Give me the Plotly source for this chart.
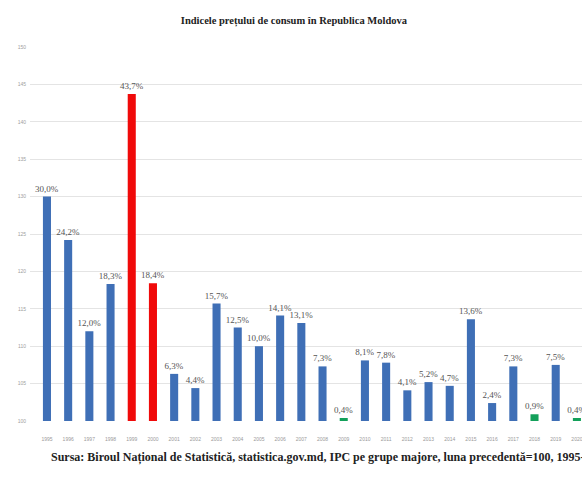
import plotly.graph_objects as go

# Annual consumer price growth, Republic of Moldova (previous year = 100)
years = [str(y) for y in range(1995, 2021)]
inflation = [30.0, 24.2, 12.0, 18.3, 43.7, 18.4, 6.3, 4.4, 15.7, 12.5, 10.0, 14.1, 13.1,
             7.3, 0.4, 8.1, 7.8, 4.1, 5.2, 4.7, 13.6, 2.4, 7.3, 0.9, 7.5, 0.4]
labels = [f"{v:.1f}".replace(".", ",") + "%" for v in inflation]
y_ticks = [100, 105, 110, 115, 120, 125, 130, 135, 140, 145, 150]

BLUE = "#3f6fb6"
RED = "#f00a0a"
GREEN = "#13a05a"
highlight = {"1999": RED, "2000": RED, "2009": GREEN, "2018": GREEN, "2020": GREEN}
colors = [highlight.get(y, BLUE) for y in years]

label_font = dict(family="Liberation Serif", size=9, color="#555555")

fig = go.Figure(
    go.Bar(
        x=years,
        y=inflation,
        base=100,
        width=0.38,
        marker=dict(color=colors, line=dict(width=0)),
        text=labels,
        textposition="outside",
        constraintext="none",
        cliponaxis=False,
        textfont=label_font,
        outsidetextfont=label_font,
    )
)

fig.update_layout(
    width=582,
    height=479,
    margin=dict(l=30, r=0, t=47, b=58),
    paper_bgcolor="white",
    plot_bgcolor="white",
    showlegend=False,
    bargap=0.6,
    title=dict(
        text="<b>Indicele prețului de consum în Republica Moldova</b>",
        x=0.505,
        xanchor="center",
        y=0.958,
        yanchor="middle",
        font=dict(family="Liberation Serif", size=10.5, color="#222222"),
    ),
    xaxis=dict(
        type="category",
        range=[-0.8, 25.24],
        showgrid=False,
        showline=False,
        ticks="",
        tickfont=dict(family="Liberation Sans", size=5, color="#9a9a9a"),
        ticklabelstandoff=14,
    ),
    yaxis=dict(
        range=[100, 150],
        tickvals=y_ticks,
        ticktext=[str(t) for t in y_ticks],
        showgrid=True,
        gridcolor="#e4e4e4",
        gridwidth=1,
        zeroline=False,
        showline=False,
        ticks="",
        tickfont=dict(family="Liberation Sans", size=5, color="#a0a0a0"),
        ticklabelstandoff=3,
    ),
    annotations=[
        dict(
            text="<b>Sursa: Biroul Național de Statistică, statistica.gov.md, IPC pe grupe majore, "
                 "luna precedentă=100, 1995-2020</b>",
            xref="paper",
            yref="paper",
            x=0.035,
            xanchor="left",
            y=-0.098,
            yanchor="middle",
            showarrow=False,
            font=dict(family="Liberation Serif", size=12, color="#222222"),
        )
    ],
)

fig.write_html("out.html")
